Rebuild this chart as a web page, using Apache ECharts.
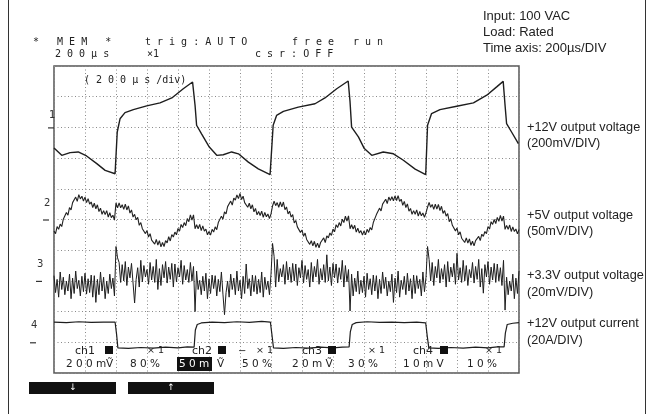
<!DOCTYPE html>
<html><head><meta charset="utf-8">
<script src="https://cdn.jsdelivr.net/npm/echarts@6/dist/echarts.min.js"></script>
<style>html,body{margin:0;padding:0;background:#fff}#c{width:654px;height:414px}</style>
</head><body><div id="c"></div>
<script>
// ---- data (x in time divisions, 200 µs/div; y in screen divisions) ----
const ch1Time = [0,0.25,0.52,0.78,1.05,1.38,1.65,1.97,2.00,2.04,2.13,2.29,2.56,2.99,3.42,3.80,4.17,4.47,4.52,4.55,4.60,4.76,5.01,5.25,5.46,5.73,5.95,6.27,6.59,6.97,7.02,7.07,7.18,7.40,7.88,8.42,8.74,9.12,9.49,9.55,9.60,9.82,10.01,10.25,10.62,10.95,11.27,11.65,11.99,12.05,12.18,12.45,12.99,13.53,13.96,14.28,14.49,14.55,14.60,14.76,14.98];
const ch1Level = [7.33,7.09,7.18,7.20,7.07,6.82,6.60,6.49,6.48,7.85,8.28,8.48,8.58,8.70,8.80,8.96,9.26,9.48,9.50,8.72,8.07,7.79,7.36,7.09,7.11,7.20,7.14,6.87,6.65,6.46,6.46,8.07,8.39,8.52,8.66,8.77,8.96,9.26,9.51,8.83,8.01,7.69,7.31,7.09,7.20,7.14,6.93,6.64,6.46,8.07,8.45,8.58,8.69,8.80,9.05,9.32,9.50,8.72,8.12,7.85,7.47];
const sampleStep = 0.05; // sampling interval of the ch2 / ch3 records (div)
const ch2Level = [4.62,4.54,4.77,4.68,4.85,4.77,5.01,4.96,5.23,5.14,5.39,5.31,5.55,5.51,5.73,5.59,5.81,5.67,5.76,5.60,
 5.73,5.55,5.68,5.50,5.57,5.39,5.53,5.35,5.48,5.26,5.37,5.17,5.29,5.16,5.29,5.08,5.22,5.06,5.14,4.98,
 5.54,5.38,5.54,5.38,5.48,5.33,5.50,5.31,5.44,5.21,5.31,5.08,5.17,4.99,5.07,4.81,4.90,4.70,4.74,4.54,
 4.64,4.43,4.54,4.33,4.38,4.20,4.35,4.17,4.31,4.11,4.25,4.12,4.31,4.24,4.44,4.30,4.51,4.43,4.59,4.50,
 4.71,4.62,4.84,4.74,4.90,4.80,5.03,4.93,5.15,4.98,5.15,4.70,4.83,4.70,4.84,4.64,4.79,4.62,4.69,4.50,
 4.61,4.49,4.68,4.59,4.76,4.67,4.90,4.85,5.11,5.01,5.25,5.18,5.42,5.38,5.60,5.47,5.70,5.63,5.80,5.68,
 5.85,5.65,5.76,5.55,5.59,5.40,5.53,5.35,5.48,5.25,5.36,5.15,5.26,5.13,5.27,5.07,5.23,5.09,5.18,5.03,
 5.18,5.44,5.60,5.45,5.55,5.40,5.57,5.41,5.57,5.32,5.41,5.18,5.27,5.08,5.16,4.89,4.97,4.76,4.79,4.58,
 4.66,4.45,4.56,4.35,4.40,4.19,4.31,4.14,4.29,4.09,4.23,4.08,4.25,4.19,4.40,4.25,4.47,4.40,4.56,4.48,
 4.69,4.60,4.83,4.74,4.90,4.79,5.01,4.90,5.11,4.95,5.12,4.70,4.83,4.69,4.81,4.59,4.72,4.56,4.64,4.49,
 4.63,4.50,4.68,4.58,4.74,4.66,4.90,4.87,5.16,5.10,5.37,5.28,5.50,5.45,5.66,5.52,5.73,5.62,5.74,5.61,
 5.77,5.62,5.78,5.59,5.66,5.46,5.59,5.39,5.51,5.27,5.36,5.17,5.29,5.17,5.31,5.11,5.26,5.12,5.21,5.07,
 5.22,5.40,5.56,5.40,5.49,5.33,5.50,5.34,5.49,5.29,5.43,5.20,5.29,5.11,5.19,4.93,5.02,4.81,4.84,4.63,
 4.72,4.50,4.60,4.39,4.43,4.25,4.40,4.23,4.37,4.16,4.29,4.14,4.31,4.25,4.45,4.31,4.52,4.45,4.61,4.54,
 4.77,4.69,4.93,4.84,5.00,4.87,5.07,4.94,5.13,4.95,5.11,4.68,4.81,4.68,4.82,4.61,4.76,4.61,4.69,4.53,
 4.67];
const ch3Level = [3.17,2.62,3.05,2.47,3.29,2.72,3.12,2.55,2.99,2.67,3.22,2.42,3.09,2.59,3.32,2.75,3.02,2.51,3.15,2.65,
 3.25,2.57,3.07,2.62,3.19,2.47,3.17,2.30,3.05,2.55,3.29,2.67,3.12,2.42,2.99,2.59,3.22,2.75,3.09,2.51,
 4.12,3.75,3.60,2.95,3.53,3.00,3.63,2.85,3.45,3.10,3.57,2.93,2.28,3.05,3.43,2.80,3.67,2.97,3.50,3.13,
 3.37,2.89,3.60,3.03,3.47,2.95,3.70,2.72,3.40,2.85,3.53,3.10,3.63,2.93,3.45,3.05,3.57,2.80,3.55,2.97,
 3.43,3.13,3.67,2.89,3.50,3.03,3.37,2.95,3.60,3.00,3.47,2.00,3.32,2.72,3.02,2.55,3.15,2.67,3.25,2.42,
 3.07,2.59,3.19,2.75,3.17,2.51,3.05,2.65,3.29,2.57,1.90,2.62,2.99,2.47,3.22,2.72,3.09,2.55,3.32,2.67,
 3.02,2.42,3.15,2.59,3.55,2.75,3.07,2.51,3.19,2.65,3.17,2.57,3.05,2.62,3.29,2.47,3.12,2.72,2.99,2.55,
 3.22,4.22,3.80,2.80,3.70,2.97,3.40,3.13,3.53,2.89,3.63,3.03,3.45,2.95,3.57,3.00,3.55,2.85,3.43,3.10,
 3.67,2.93,3.50,3.05,3.37,2.80,3.60,2.97,3.47,3.13,3.70,2.89,3.40,3.03,3.53,2.95,3.85,3.00,3.45,2.85,
 3.57,3.10,3.55,2.93,3.43,3.05,3.67,2.80,3.50,2.97,3.37,2.02,3.22,2.51,3.09,2.65,3.32,2.57,3.02,2.62,
 3.15,2.47,3.25,2.72,3.07,2.55,3.19,2.67,3.17,2.42,3.05,2.59,3.29,2.75,3.12,2.51,2.99,2.65,3.22,2.30,
 3.09,2.62,3.32,2.47,3.02,2.72,3.15,2.55,3.25,2.67,3.07,2.42,3.19,2.59,3.17,2.75,3.05,2.51,3.29,2.65,
 3.12,4.12,3.70,3.00,3.60,2.85,3.47,3.10,3.70,2.93,3.40,3.05,3.53,2.80,3.63,2.97,3.45,3.13,3.57,2.89,
 3.90,3.03,3.43,2.95,3.67,3.00,3.50,2.85,3.37,3.10,3.60,2.93,3.47,3.05,3.70,2.80,3.40,2.60,3.53,3.13,
 3.63,2.89,3.45,3.03,3.57,2.95,3.55,3.00,3.43,2.85,3.67,2.05,3.12,2.55,2.99,2.67,3.22,2.42,3.09,2.59,
 3.32];
const ch4Time = [0,0.4,0.8,1.2,1.6,1.97,2.02,2.06,2.4,2.8,3.2,3.6,4.0,4.3,4.52,4.56,4.62,4.75,5.1,5.5,5.9,6.3,6.7,6.98,7.03,7.08,7.4,7.8,8.2,8.6,9.0,9.3,9.52,9.56,9.62,9.75,10.1,10.5,10.9,11.3,11.7,11.99,12.04,12.09,12.4,12.8,13.2,13.6,14.0,14.3,14.52,14.56,14.62,14.8,15];
const ch4Level = [1.66,1.64,1.67,1.65,1.66,1.66,1.25,0.82,0.80,0.83,0.81,0.84,0.82,0.85,0.84,1.40,1.58,1.63,1.66,1.64,1.67,1.65,1.68,1.66,1.25,0.82,0.80,0.83,0.81,0.84,0.82,0.84,0.85,1.35,1.58,1.64,1.67,1.65,1.66,1.64,1.66,1.63,1.20,0.82,0.80,0.83,0.81,0.84,0.82,0.85,0.85,1.30,1.58,1.62,1.64];
const groundLevels = [8, 5, 3, 1];
const channelNumbers = ['1','2','3','4'];
const infoLines = ['Input: 100 VAC','Load: Rated','Time axis: 200µs/DIV'];
const traceLabels = ['+12V output voltage','(200mV/DIV)','+5V output voltage','(50mV/DIV)','+3.3V output voltage','(20mV/DIV)','+12V output current','(20A/DIV)'];

// ---- build ----
const pairs = (xs, ys) => ys.map((v, i) => [xs[i], v]);
const sampled = ys => ys.map((v, i) => [+(i * sampleStep).toFixed(2), v]);

const chart = echarts.init(document.getElementById('c'));
const scope = '"DejaVu Sans", sans-serif';
const mono = '"DejaVu Sans Mono", monospace';
const sans = '"Liberation Sans", Arial, sans-serif';
function txt(x, y, text, size, family, fill, align) {
  return {type:'text', x, y, z:50, style:{text, fill: fill || '#222', font: (size||10) + 'px ' + (family||mono),
    textAlign: align||'left', align: align||'left', textVerticalAlign:'middle', verticalAlign:'middle'}};
}
function line(x1,y1,x2,y2,w,c){ return {type:'line', z:50, shape:{x1,y1,x2,y2}, style:{stroke:c||'#222', lineWidth:w||1}}; }
function rect(x,y,w,h,c){ return {type:'rect', z:49, shape:{x,y,width:w,height:h}, style:{fill:c||'#111'}}; }

const lineSeries = (data, w, c) => ({type:'line', data, symbol:'none', animation:false, silent:true,
  lineStyle:{width:w, color:c}, z:5});

chart.setOption({
  animation:false,
  backgroundColor:'#fff',
  grid:{left:54, top:66, width:465, height:307, show:true, borderColor:'#555', borderWidth:1.5},
  xAxis:{type:'value', min:0, max:15, interval:1, axisLine:{show:false}, axisTick:{show:false}, axisLabel:{show:false},
    splitLine:{show:true, lineStyle:{color:'#8a8a8a', type:[1,2.5], width:1}}},
  yAxis:{type:'value', min:0, max:10, interval:1, axisLine:{show:false}, axisTick:{show:false}, axisLabel:{show:false},
    splitLine:{show:true, lineStyle:{color:'#8a8a8a', type:[1,2.5], width:1}}},
  series:[
    lineSeries(pairs(ch1Time, ch1Level), 1.4, '#1e1e1e'),
    lineSeries(sampled(ch2Level), 1.1, '#222'),
    lineSeries(sampled(ch3Level), 1, '#1e1e1e'),
    lineSeries(pairs(ch4Time, ch4Level), 1.2, '#1e1e1e')
  ]
});

const g = [];
// outer frame
g.push(line(8.5,0,8.5,414,1,'#333'), line(645.5,0,645.5,414,1,'#333'));
// header texts
g.push(txt(33,42,'*   M E M   *'), txt(145,42,'t r i g : A U T O'), txt(292,42,'f r e e'), txt(353,42,'r u n'));
g.push(txt(55,54,'2 0 0 µ s'), txt(147,54,'×1'), txt(255,54,'c s r : O F F'));
g.push(txt(84,80,'( 2 0 0 µ s /div)'));
// info block
infoLines.forEach((t,i)=> g.push(txt(483,16+16*i,t,13,sans,'#222')));
// trace labels
const labelY = [127,143,215,231,275,292,323,340];
traceLabels.forEach((t,i)=> g.push(txt(527,labelY[i],t,12.7,sans,'#222')));
// channel ground markers
const markX = [50,45,38,32], numOff = [-12,-16,-16,-17];
groundLevels.forEach((lv,i)=>{
  const y = chart.convertToPixel({gridIndex:0},[0,lv])[1];
  g.push(line(markX[i]-2, y+0.5, markX[i]+4, y+0.5, 1.2, '#333'));
  g.push(txt(markX[i]-1, y+numOff[i], channelNumbers[i], 10, scope, '#333'));
});
// bottom status rows
g.push(txt(75,351,'ch1',11,scope), rect(105,346,8,8), txt(147,351,'× 1',9.5,scope));
g.push(txt(192,351,'ch2',11,scope), rect(218,346,8,8), txt(238,351,'−',10,scope), txt(256,351,'× 1',9.5,scope));
g.push(txt(302,351,'ch3',11,scope), rect(328,346,8,8), txt(368,351,'× 1',9.5,scope));
g.push(txt(413,351,'ch4',11,scope), rect(440,346,8,8), txt(485,351,'× 1',9.5,scope));
g.push(txt(66,364,'2 0 0 m',10.5,scope), txt(106,364,'Ṽ',10.5,scope), txt(130,364,'8 0 %',10.5,scope));
g.push(rect(177,357,35,14,'#111'), txt(179,364,'5 0 m',10.5,scope,'#fff'), txt(217,364,'Ṽ',10.5,scope));
g.push(txt(242,364,'5 0 %',10.5,scope), txt(292,364,'2 0 m Ṽ',10.5,scope), txt(348,364,'3 0 %',10.5,scope));
g.push(txt(403,364,'1 0 m V',10.5,scope), txt(467,364,'1 0 %',10.5,scope));
// soft buttons
g.push(rect(29,382,87,12,'#111'), rect(128,382,86,12,'#111'));
g.push(txt(73,388,'↓',9,scope,'#fff','center'), txt(171,388,'↑',9,scope,'#fff','center'));

chart.setOption({graphic:g});
</script></body></html>
